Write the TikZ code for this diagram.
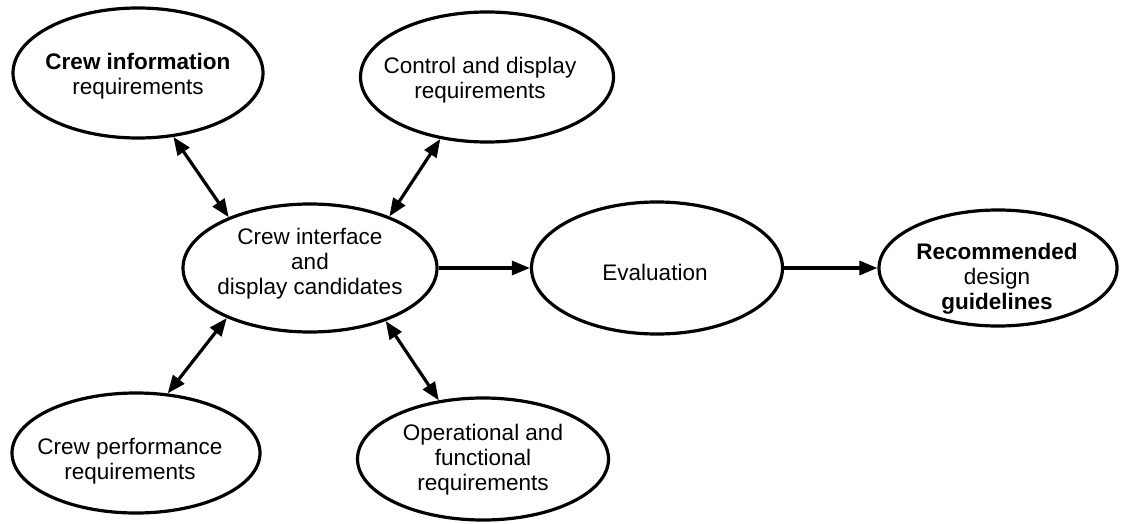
\documentclass[tikz,border=0pt]{standalone}
\usepackage{fontspec}
\setmainfont{Liberation Sans}
\usetikzlibrary{shapes.geometric,arrows.meta}
\begin{document}
\begin{tikzpicture}[x=1pt,y=-1pt,
  oval/.style={draw,ellipse,inner sep=0pt,line width=3.2pt},
  lbl/.style={align=center,inner sep=0pt,font=\fontsize{22.5}{25}\selectfont},
  conn/.style={line width=3.2pt,-{Triangle[length=18pt,width=14pt]}},
  dconn/.style={line width=3.2pt,{Triangle[length=18pt,width=14pt]}-{Triangle[length=18pt,width=14pt]}}]
\useasboundingbox[fill=white] (0,0) rectangle (1121,524);
% ellipses
\node[oval,minimum width=250pt,minimum height=130pt] (ci) at (138,73) {};
\node[oval,minimum width=253pt,minimum height=130pt] (ctrl) at (487,77) {};
\node[oval,minimum width=254pt,minimum height=128pt] (cen) at (310,268) {};
\node[oval,minimum width=251pt,minimum height=132pt] (eval) at (657,268) {};
\node[oval,minimum width=238pt,minimum height=116pt] (rec) at (998,268) {};
\node[oval,minimum width=248pt,minimum height=120pt] (perf) at (136,453) {};
\node[oval,minimum width=251pt,minimum height=122pt] (op) at (483,459) {};
% texts
\node[lbl] (ciT) at (138,76) {\textbf{Crew information}\\requirements};
\node[lbl] (ctrlT) at (480,80) {Control and display\\requirements};
\node[lbl] (cenT) at (310,264) {Crew interface\\and\\display candidates};
\node[lbl] (evalT) at (655,272) {Evaluation};
\node[lbl] (recT) at (997,279) {\textbf{Recommended}\\design\\\textbf{guidelines}};
\node[lbl] (perfT) at (130,461) {Crew performance\\requirements};
\node[lbl] (opT) at (483,460) {Operational and\\functional\\requirements};
% connectors
\draw[dconn] (ci.-61.7) -- (cen.148.4);
\draw[dconn] (ctrl.233.3) -- (cen.33.2);
\draw[dconn] (cen.211) -- (perf.62);
\draw[dconn] (cen.-35.5) -- (op.127);
\draw[conn] (cen.east) -- (eval.west);
\draw[conn] (eval.east) -- (rec.west);
\end{tikzpicture}
\end{document}
